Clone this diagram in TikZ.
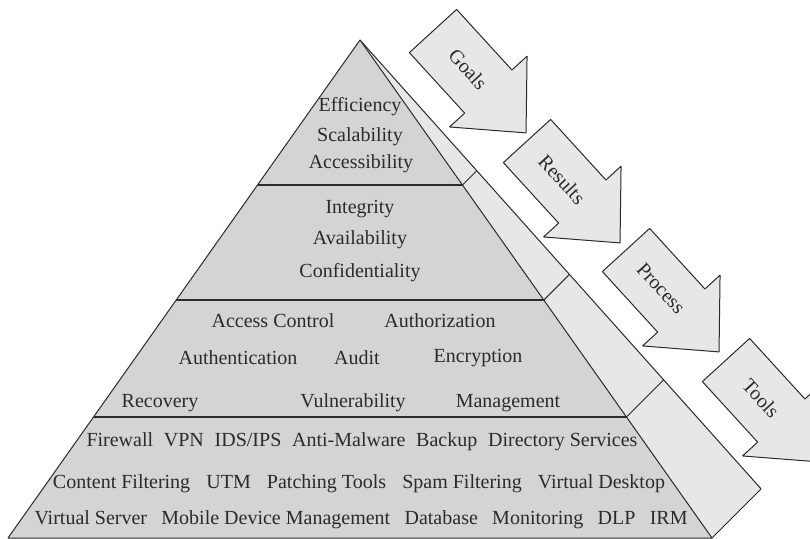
\documentclass[tikz,border=0pt]{standalone}
\usepackage{fontspec}
\setmainfont{Liberation Serif}

\definecolor{frontgray}{HTML}{D4D4D4}
\definecolor{sidegray}{HTML}{E7E7E8}
\definecolor{inkgray}{HTML}{2B2B2B}

\begin{document}
\begin{tikzpicture}
    % pixel grid of the page, y downwards
    [line join=bevel,x=0.5pt,y=-0.5pt,
     face/.style={draw=inkgray,line width=0.5pt},
     tier/.style={draw=inkgray,line width=0.8pt},
     txt/.style={text=inkgray,font=\fontsize{10}{12}\selectfont,inner sep=0pt},
     flow/.style={draw=inkgray,fill=sidegray,line width=0.5pt}]

    \useasboundingbox (0,0) rectangle (810,538);
    \clip (0,0) rectangle (810,538);

    \coordinate (A)  at (360.0,  40.0);
    \coordinate (BL) at (  8.0, 538.0);
    \coordinate (BR) at (712.0, 538.0);
    \coordinate (S)  at (761.1, 488.9);

    \coordinate (L1) at (257.5, 185.0);
    \coordinate (R1) at (462.5, 185.0);
    \coordinate (O1) at (476.8, 170.7);
    \coordinate (L2) at (176.2, 300.0);
    \coordinate (R2) at (543.8, 300.0);
    \coordinate (O2) at (569.4, 274.4);
    \coordinate (L3) at ( 93.5, 417.0);
    \coordinate (R3) at (626.5, 417.0);
    \coordinate (O3) at (663.6, 379.9);

    \fill[sidegray] (A) -- (BR) -- (S) -- cycle;
    \draw[face] (A) -- (S) -- (BR);
    \draw[face] (R1) -- (O1) (R2) -- (O2) (R3) -- (O3);
    \draw[face,fill=frontgray] (A) -- (BL) -- (BR) -- cycle;
    \draw[tier] (L1) -- (R1) (L2) -- (R2) (L3) -- (R3);

    % block arrows, drawn from the middle of the tail
    \draw[flow,shift={(433,31)},rotate=-47.6]
      (0,-32) -- (82,-32) -- (82,-52.5) -- (138,0) -- (82,52.5) -- (82,32) -- (0,32) -- cycle
      (52,0) node[txt,transform shape] (goals) {Goals};
    \draw[flow,shift={(527,141)},rotate=-47.6]
      (0,-32) -- (82,-32) -- (82,-52.5) -- (138,0) -- (82,52.5) -- (82,32) -- (0,32) -- cycle
      (52,0) node[txt,transform shape] (results) {Results};
    \draw[flow,shift={(626,250)},rotate=-47.6]
      (0,-32) -- (82,-32) -- (82,-52.5) -- (138,0) -- (82,52.5) -- (82,32) -- (0,32) -- cycle
      (52,0) node[txt,transform shape] (process) {Process};
    \draw[flow,shift={(726,360)},rotate=-47.6]
      (0,-32) -- (82,-32) -- (82,-52.5) -- (138,0) -- (82,52.5) -- (82,32) -- (0,32) -- cycle
      (52,0) node[txt,transform shape] (tools) {Tools};

    \node[txt] (eff)  at (360,107) {Efficiency};
    \node[txt] (scal) at (360,137) {Scalability};
    \node[txt] (acc)  at (361,164) {Accessibility};

    \node[txt] (integ) at (360,209) {Integrity};
    \node[txt] (avail) at (360,240) {Availability};
    \node[txt] (conf)  at (360,273) {Confidentiality};

    \node[txt] (access) at (273,321) {Access Control};
    \node[txt] (author) at (440,321) {Authorization};
    \node[txt] (authen) at (238,358) {Authentication};
    \node[txt] (audit)  at (357,358) {Audit};
    \node[txt] (encr)   at (478,358) {Encryption};
    \node[txt] (recov)  at (160,403) {Recovery};
    \node[txt] (vuln)   at (353,403) {Vulnerability};
    \node[txt] (mgmt)   at (508,403) {Management};

    \node[txt] (row1) at (362,442) {\makebox[275.5pt]{Firewall\hfill VPN\hfill IDS/IPS\hfill Anti-Malware\hfill Backup\hfill Directory Services}};
    \node[txt] (row2) at (359,484) {\makebox[306pt]{Content Filtering\hfill UTM\hfill Patching Tools\hfill Spam Filtering\hfill Virtual Desktop}};
    \node[txt] (row3) at (361,520) {\makebox[326.5pt]{Virtual Server\hfill Mobile Device Management\hfill Database\hfill Monitoring\hfill DLP\hfill IRM}};
  \end{tikzpicture}
\end{document}
